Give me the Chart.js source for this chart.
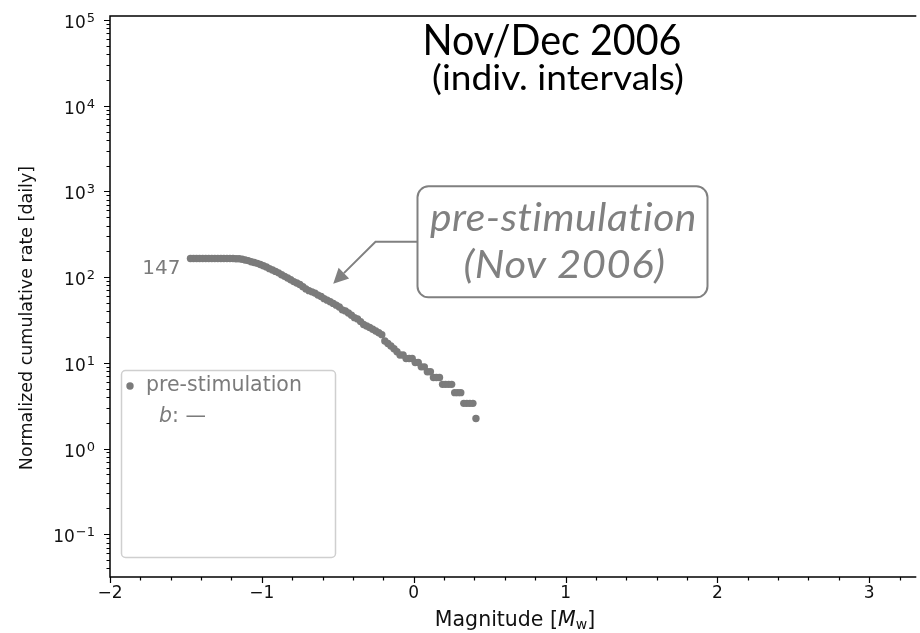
<!DOCTYPE html>
<html>
<head>
<meta charset="utf-8">
<title>Nov/Dec 2006 magnitude-frequency</title>
<script src="https://cdn.jsdelivr.net/npm/chart.js@4.4.1/dist/chart.umd.min.js"></script>
<style>
  html, body { margin: 0; padding: 0; background: #fff; }
  #wrap { width: 920px; height: 633px; }
</style>
</head>
<body>
<div id="wrap"><canvas id="fmdChart" width="920" height="633"></canvas></div>
<script>
// magnitude bins (Mw) and cumulative event counts N(>=M), pre-stimulation Nov 2006
const magnitudes = [
  -1.47, -1.45, -1.43, -1.41, -1.39, -1.37, -1.35, -1.33, -1.31, -1.29,
  -1.27, -1.25, -1.23, -1.21, -1.19, -1.17, -1.15, -1.13, -1.11, -1.09,
  -1.07, -1.05, -1.03, -1.01, -0.99, -0.97, -0.95, -0.93, -0.91, -0.89,
  -0.87, -0.85, -0.83, -0.81, -0.79, -0.77, -0.75, -0.73, -0.71, -0.69,
  -0.67, -0.65, -0.63, -0.61, -0.59, -0.57, -0.55, -0.53, -0.51, -0.49,
  -0.47, -0.45, -0.43, -0.41, -0.39, -0.37, -0.35, -0.33, -0.31, -0.29,
  -0.27, -0.25, -0.23, -0.21, -0.19, -0.17, -0.15, -0.13, -0.11, -0.09,
  -0.07, -0.05, -0.03, -0.01, 0.01, 0.03, 0.05, 0.07, 0.09, 0.11,
  0.13, 0.15, 0.17, 0.19, 0.21, 0.23, 0.25, 0.27, 0.29, 0.31,
  0.33, 0.35, 0.37, 0.39, 0.41
];
const eventCounts = [
  147, 147, 147, 147, 147, 147, 147, 147, 147, 147,
  147, 147, 147, 147, 147, 146, 146, 144, 141, 139,
  135, 132, 129, 125, 121, 117, 112, 108, 104, 100,
  95, 91, 87, 83, 79, 76, 73, 69, 65, 62,
  60, 58, 55, 53, 50, 48, 46, 44, 42, 40,
  37, 36, 34, 32, 30, 29, 27, 25, 24, 23,
  22, 21, 20, 19, 16, 15, 14, 13, 12, 11,
  11, 10, 10, 10, 9, 9, 8, 8, 7, 7,
  6, 6, 6, 5, 5, 5, 5, 4, 4, 4,
  3, 3, 3, 3, 2
];
// length of the observation interval in days (counts -> daily rate)
const intervalDays = 0.891;

const seriesLabel = "pre-stimulation";
const bValueText = "—";
const titleLines = ["Nov/Dec 2006", "(indiv. intervals)"];
const noteLines = ["pre-stimulation", "(Nov 2006)"];
// where the note box sits and where its arrow points (data coords)
const noteAt = { x: 0.98, y: 258 };
const arrowTip = { x: -0.53, y: 84 };

const yExponents = [-1, 0, 1, 2, 3, 4, 5];
const xTicks = [-2, -1, 0, 1, 2, 3];

const GREY = "#7b7b7b";
const TICK_FONT = "17px 'DejaVu Sans'";
const EXP_FONT = "13px 'DejaVu Sans'";

function roundRect(ctx, x, y, w, h, r) {
  ctx.beginPath();
  ctx.moveTo(x + r, y);
  ctx.lineTo(x + w - r, y);
  ctx.arcTo(x + w, y, x + w, y + r, r);
  ctx.lineTo(x + w, y + h - r);
  ctx.arcTo(x + w, y + h, x + w - r, y + h, r);
  ctx.lineTo(x + r, y + h);
  ctx.arcTo(x, y + h, x, y + h - r, r);
  ctx.lineTo(x, y + r);
  ctx.arcTo(x, y, x + r, y, r);
  ctx.closePath();
}

// centred text squeezed or stretched to a given width
function fitText(ctx, text, cx, y, width) {
  const w = ctx.measureText(text).width;
  ctx.save();
  ctx.translate(cx, y);
  ctx.scale(width / w, 1);
  ctx.textAlign = "center";
  ctx.fillText(text, 0, 0);
  ctx.restore();
}

const minus = s => String(s).replace("-", "\u2212");

// spines, ticks, labels, legend and annotations in matplotlib style
const axesDecor = {
  id: "axesDecor",
  afterDraw(chart) {
    const ctx = chart.ctx;
    const a = chart.chartArea;
    const xs = chart.scales.x, ys = chart.scales.y;
    ctx.save();

    // spines
    ctx.strokeStyle = "#000";
    ctx.lineWidth = 1.5;
    ctx.beginPath();
    ctx.moveTo(a.right, a.top); ctx.lineTo(a.left, a.top);
    ctx.lineTo(a.left, a.bottom); ctx.lineTo(a.right, a.bottom);
    ctx.stroke();

    // y ticks (log)
    ctx.lineWidth = 1.2;
    ctx.beginPath();
    for (let e = -2; e <= 5; e++) {
      for (let k = 1; k <= 9; k++) {
        const v = k * Math.pow(10, e);
        if (v < ys.min || v > ys.max) continue;
        const py = Math.round(ys.getPixelForValue(v)) + 0.5;
        const len = k === 1 ? 6 : 3.5;
        ctx.moveTo(a.left, py); ctx.lineTo(a.left - len, py);
      }
    }
    // x ticks, minor every 0.2
    for (let i = -10; i <= 17; i++) {
      const v = i * 0.2;
      if (v < xs.min - 1e-9 || v > xs.max) continue;
      const px = Math.round(xs.getPixelForValue(v)) + 0.5;
      const len = i % 5 === 0 ? 6 : 3.5;
      ctx.moveTo(px, a.bottom); ctx.lineTo(px, a.bottom + len);
    }
    ctx.stroke();

    // y tick labels 10^n
    ctx.fillStyle = "#111";
    ctx.textBaseline = "alphabetic";
    ctx.textAlign = "left";
    yExponents.forEach(e => {
      const py = ys.getPixelForValue(Math.pow(10, e));
      ctx.font = EXP_FONT;
      const wExp = ctx.measureText(minus(e)).width;
      ctx.font = TICK_FONT;
      const wBase = ctx.measureText("10").width;
      const right = 95;
      ctx.fillText("10", right - wExp - wBase - 1, py + 8);
      ctx.font = EXP_FONT;
      ctx.fillText(minus(e), right - wExp, py + 2);
    });

    // x tick labels
    ctx.font = TICK_FONT;
    ctx.textAlign = "center";
    xTicks.forEach(v => {
      ctx.fillText(minus(v), xs.getPixelForValue(v), a.bottom + 21);
    });

    // x axis title with italic M and subscript w
    const LBL = "20.5px 'DejaVu Sans'", LBL_I = "italic 20.5px 'DejaVu Sans'", LBL_S = "14px 'DejaVu Sans'";
    ctx.font = LBL;
    const p1 = "Magnitude [", p3 = "]";
    const w1 = ctx.measureText(p1).width, w3 = ctx.measureText(p3).width;
    ctx.font = LBL_I;
    const w2 = ctx.measureText("M").width;
    ctx.font = LBL_S;
    const ws = ctx.measureText("w").width;
    let x0 = 515 - (w1 + w2 + ws + w3) / 2;
    const by = 626;
    ctx.textAlign = "left";
    ctx.font = LBL; ctx.fillText(p1, x0, by); x0 += w1;
    ctx.font = LBL_I; ctx.fillText("M", x0, by); x0 += w2;
    ctx.font = LBL_S; ctx.fillText("w", x0, by + 3); x0 += ws;
    ctx.font = LBL; ctx.fillText(p3, x0, by);

    ctx.save();
    ctx.translate(27, 318);
    ctx.rotate(-Math.PI / 2);
    ctx.textAlign = "center";
    ctx.textBaseline = "middle";
    ctx.font = "17.5px 'DejaVu Sans'";
    ctx.fillText("Normalized cumulative rate [daily]", 0, 0);
    ctx.restore();

    // title
    ctx.fillStyle = "#000";
    ctx.textBaseline = "alphabetic";
    ctx.font = "42px Lato";
    fitText(ctx, titleLines[0], 552, 55, 259);
    ctx.font = "34px Lato";
    fitText(ctx, titleLines[1], 558, 90, 252);

    // total count next to the first point
    const first = { x: xs.getPixelForValue(magnitudes[0]), y: ys.getPixelForValue(eventCounts[0] / intervalDays) };
    ctx.fillStyle = GREY;
    ctx.font = "20px 'DejaVu Sans'";
    ctx.textAlign = "right";
    ctx.textBaseline = "middle";
    ctx.fillText(String(eventCounts[0]), first.x - 10, first.y + 10);

    // legend box
    roundRect(ctx, 121.5, 370.5, 214, 187, 4);
    ctx.fillStyle = "rgba(255,255,255,0.8)";
    ctx.fill();
    ctx.strokeStyle = "#cfcfcf";
    ctx.lineWidth = 1.5;
    ctx.stroke();
    ctx.fillStyle = GREY;
    ctx.beginPath(); ctx.arc(130, 386, 3.7, 0, Math.PI * 2); ctx.fill();
    ctx.textAlign = "left";
    ctx.font = "20.5px 'DejaVu Sans'";
    ctx.fillText(seriesLabel, 146, 386);
    ctx.font = "italic 20.5px 'DejaVu Sans'";
    ctx.fillText("b", 159, 417);
    const wb = ctx.measureText("b").width;
    ctx.font = "20.5px 'DejaVu Sans'";
    ctx.fillText(": " + bValueText, 159 + wb, 417);

    // annotation box with elbow arrow
    const cx = xs.getPixelForValue(noteAt.x), cy = ys.getPixelForValue(noteAt.y);
    const bw = 290, bh = 111;
    const bx = cx - bw / 2, byy = cy - bh / 2;
    const tip = { x: xs.getPixelForValue(arrowTip.x), y: ys.getPixelForValue(arrowTip.y) };
    const elbow = { x: bx - 42, y: cy };
    ctx.strokeStyle = "#808080";
    ctx.fillStyle = "#808080";
    ctx.lineWidth = 2;
    const ang = Math.atan2(tip.y - elbow.y, tip.x - elbow.x);
    const headLen = 15, headW = 7.5;
    const base = { x: tip.x - headLen * Math.cos(ang), y: tip.y - headLen * Math.sin(ang) };
    ctx.beginPath();
    ctx.moveTo(bx, cy); ctx.lineTo(elbow.x, elbow.y); ctx.lineTo(base.x, base.y);
    ctx.stroke();
    ctx.beginPath();
    ctx.moveTo(tip.x, tip.y);
    ctx.lineTo(base.x + headW * Math.sin(ang), base.y - headW * Math.cos(ang));
    ctx.lineTo(base.x - headW * Math.sin(ang), base.y + headW * Math.cos(ang));
    ctx.closePath();
    ctx.fill();

    roundRect(ctx, bx, byy, bw, bh, 11);
    ctx.fillStyle = "#fff";
    ctx.fill();
    ctx.stroke();
    ctx.fillStyle = "#808080";
    ctx.textBaseline = "alphabetic";
    ctx.font = "italic 38px Lato";
    // a little tracking keeps Lato from joining "ti" into a ligature
    ctx.letterSpacing = "0.5px";
    fitText(ctx, noteLines[0], cx + 1, byy + 45, 267);
    fitText(ctx, noteLines[1], cx + 2, byy + 92, 202);
    ctx.letterSpacing = "0px";

    ctx.restore();
  }
};

const points = magnitudes.map((m, i) => ({ x: m, y: eventCounts[i] / intervalDays }));

new Chart(document.getElementById("fmdChart"), {
  type: "scatter",
  data: {
    datasets: [{
      label: seriesLabel,
      data: points,
      pointRadius: 3.7,
      pointHoverRadius: 3.7,
      pointBorderWidth: 0,
      pointBackgroundColor: GREY,
      showLine: false
    }]
  },
  options: {
    responsive: false,
    animation: false,
    devicePixelRatio: 1,
    layout: { padding: { top: 16, left: 0, right: 0, bottom: 0 } },
    plugins: { legend: { display: false }, tooltip: { enabled: false } },
    scales: {
      x: {
        type: "linear", min: -2, max: 3.31,
        grid: { display: false }, border: { display: false },
        ticks: { display: false },
        afterFit: s => { s.height = 56; }
      },
      y: {
        type: "logarithmic", min: 0.0317, max: 111500,
        grid: { display: false }, border: { display: false },
        ticks: { display: false },
        afterFit: s => { s.width = 110; }
      }
    }
  },
  plugins: [axesDecor]
});
</script>
</body>
</html>
